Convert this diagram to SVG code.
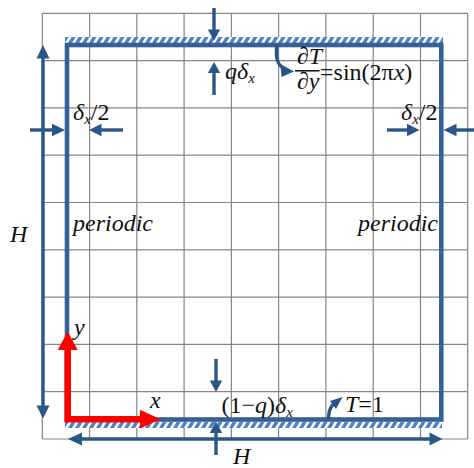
<svg xmlns="http://www.w3.org/2000/svg" width="474" height="468" viewBox="0 0 474 468">
<style>
.grid{stroke:#858585;stroke-width:1.2;fill:none}
.wall{stroke:#36609a;stroke-width:4.6;fill:none}
.arr{stroke:#2a5587;stroke-width:3.4;fill:none}
.head{fill:#2a5587}
.red{stroke:#ff0000;stroke-width:6.6;fill:none;stroke-linejoin:miter}
.redh{fill:#ff0000}
text{font-family:"Liberation Serif","Times New Roman",serif;font-size:24px;fill:#111}
.it{font-style:italic}
.sub{font-size:15px;font-style:italic}
</style>
<defs>
<pattern id="hatch" patternUnits="userSpaceOnUse" width="7" height="6">
<rect width="7" height="6" fill="#4f80c4"/>
<polygon points="3.6,0 6.6,0 3,6 0,6" fill="#ffffff"/>
</pattern>
</defs>
<rect width="474" height="468" fill="#ffffff"/>
<g id="grid" class="grid">
<path d="M42.3,13.3V439 M89.6,13.3V439 M136.8,13.3V439 M184.1,13.3V439 M231.4,13.3V439 M278.6,13.3V439 M325.9,13.3V439 M373.2,13.3V439 M420.5,13.3V439 M467.7,13.3V439"/>
<path d="M42.3,13.3H467.7 M42.3,60.6H467.7 M42.3,107.9H467.7 M42.3,155.2H467.7 M42.3,202.5H467.7 M42.3,249.8H467.7 M42.3,297.1H467.7 M42.3,344.4H467.7 M42.3,391.7H467.7 M42.3,439H467.7"/>
</g>
<g id="domain">
<g transform="translate(65,37)"><rect x="0" y="0" width="378" height="6" fill="url(#hatch)"/></g>
<g transform="translate(65,422)"><rect x="0" y="0" width="377" height="6" fill="url(#hatch)"/></g>
<rect class="wall" x="67" y="45" width="374.3" height="374.5"/>
</g>
<g id="connectors">
<path class="arr" d="M43,56 V407"/>
<polygon class="head" points="43,45 36.5,58.5 49.5,58.5"/>
<polygon class="head" points="43,418.5 36.5,405.5 49.5,405.5"/>
<path class="arr" d="M80,439 H431"/>
<polygon class="head" points="68,439 82,432.5 82,445.5"/>
<polygon class="head" points="442.5,439 429.5,432.5 429.5,445.5"/>
<path class="arr" d="M30,130 H54"/>
<polygon class="head" points="65,130 52,123.8 52,136.2"/>
<path class="arr" d="M99,130 H123"/>
<polygon class="head" points="89,130 101.5,123.8 101.5,136.2"/>
<path class="arr" d="M387,130 H409"/>
<polygon class="head" points="419.5,130 407,123.8 407,136.2"/>
<path class="arr" d="M456,130 H474"/>
<polygon class="head" points="443.5,130 456.5,123.8 456.5,136.2"/>
<path class="arr" d="M214,8 V31"/>
<polygon class="head" points="214,40.5 207.8,29.5 220.2,29.5"/>
<path class="arr" d="M214,72 V95"/>
<polygon class="head" points="214,62 207.8,73 220.2,73"/>
<path class="arr" d="M216,359 V382"/>
<polygon class="head" points="216,392 209.8,380.5 222.2,380.5"/>
<path class="arr" d="M216,432 V455"/>
<polygon class="head" points="216,421.5 209.8,433 222.2,433"/>
<path class="arr" d="M276.5,45 V56 Q277,64 284,69" stroke-width="3.2"/>
<polygon class="head" points="294,71.5 280.5,64 281.5,77"/>
<path class="arr" d="M328.5,419.5 Q328.5,409 333,404.5" stroke-width="3.2"/>
<polygon class="head" points="342.5,397 330,401 336,409"/>
<path class="red" d="M67.7,348 V419.2 H142"/>
<polygon class="redh" points="67.7,331.5 57.7,350 77.7,350"/>
<polygon class="redh" points="160.5,419.2 140,409.8 140,428.6"/>
</g>
<g id="labels">
<text class="it" x="10" y="242">H</text>
<text class="it" x="233" y="464">H</text>
<text class="it" x="73" y="231">periodic</text>
<text class="it" x="358" y="231">periodic</text>
<text x="73" y="120"><tspan class="it">δ</tspan><tspan class="sub" dy="4">x</tspan><tspan dy="-4">/2</tspan></text>
<text x="401" y="120"><tspan class="it">δ</tspan><tspan class="sub" dy="4">x</tspan><tspan dy="-4">/2</tspan></text>
<text x="225" y="79"><tspan class="it">qδ</tspan><tspan class="sub" dy="4">x</tspan></text>
<text x="297" y="63.5" font-size="20">∂<tspan class="it">T</tspan></text>
<line x1="295" y1="70.8" x2="319.5" y2="70.8" stroke="#111" stroke-width="1.5"/>
<text x="297" y="88.5" font-size="20">∂<tspan class="it">y</tspan></text>
<text x="320" y="80">=sin(2π<tspan class="it">x</tspan>)</text>
<text x="221.5" y="413">(1−<tspan class="it">q</tspan>)<tspan class="it">δ</tspan><tspan class="sub" dy="4">x</tspan></text>
<text x="345" y="412"><tspan class="it">T</tspan>=1</text>
<text class="it" x="74" y="335">y</text>
<text class="it" x="150" y="408">x</text>
</g>
</svg>
